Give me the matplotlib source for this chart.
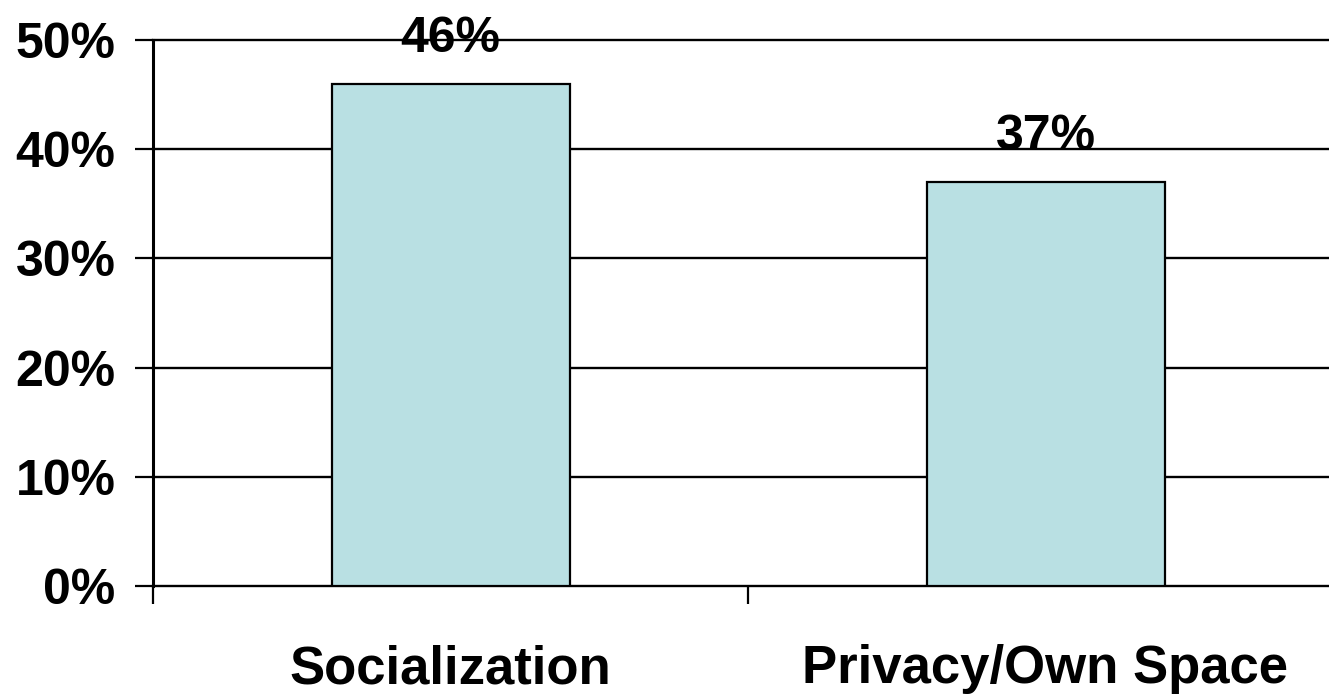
import matplotlib.pyplot as plt

categories = ['Socialization', 'Privacy/Own Space']
values = [46, 37]
yticks = [0, 10, 20, 30, 40, 50]

plt.rcParams['font.family'] = ['Liberation Sans', 'DejaVu Sans']
plt.rcParams['font.weight'] = 'bold'

fig = plt.figure(figsize=(13.29, 6.96), dpi=100)
ax = fig.add_axes([153/1329, 1-586/696, 1190/1329, 546/696])

x = list(range(len(categories)))
ax.bar(x, values, width=0.4, color='#B9E0E3', edgecolor='black', linewidth=1.6, zorder=3)

# gridlines in black
for t in yticks[1:]:
    ax.axhline(t, color='black', linewidth=1.7, zorder=1, clip_on=False)

for xi, v in zip(x, values):
    ax.annotate(f'{v}%', (xi, v), xytext=(0, 23), textcoords='offset points',
                ha='center', va='baseline', fontsize=36, fontweight='bold', zorder=5)

ax.set_xlim(-0.5, 1.5)
ax.set_ylim(0, 50)
ax.set_yticks(yticks)
ax.set_yticklabels([f'{t}%' for t in yticks])

# category borders as major ticks, names as minor ticks
ax.set_xticks([-0.5, 0.5, 1.5])
ax.set_xticklabels(['', '', ''])
ax.set_xticks(x, minor=True)
ax.set_xticklabels(categories, minor=True)

ax.tick_params(axis='y', length=13, width=1.6, pad=14, labelsize=36)
ax.tick_params(axis='x', which='major', length=13, width=1.6)
ax.tick_params(axis='x', which='minor', length=0, pad=42, labelsize=38)

ax.spines['top'].set_color('none')
ax.spines['right'].set_color('none')
ax.spines['left'].set_linewidth(2.2)
ax.spines['bottom'].set_linewidth(1.7)

fig.savefig('out.png', dpi=100)
